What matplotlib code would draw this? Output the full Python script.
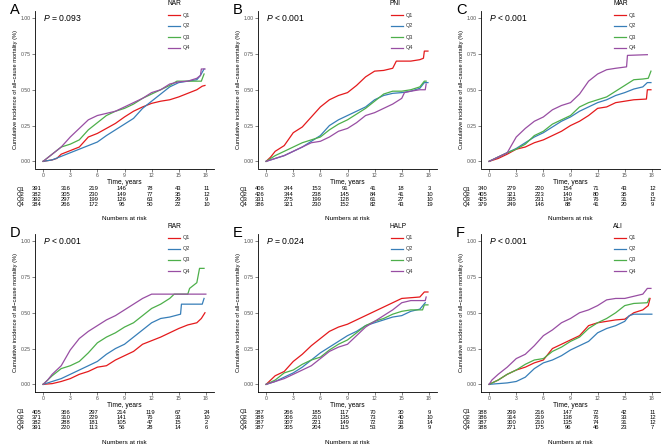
import matplotlib
matplotlib.use("Agg")
import matplotlib.pyplot as plt
from matplotlib.lines import Line2D

plt.rcParams["font.family"] = ["Liberation Sans", "DejaVu Sans"]
plt.rcParams["mathtext.fontset"] = "custom"
plt.rcParams["mathtext.it"] = "Liberation Sans:italic"
plt.rcParams["mathtext.rm"] = "Liberation Sans"

W, H = 669, 446
CELL = 223

# kolory grup (Set1)
colors = ["#E41A1C", "#377EB8", "#4DAF4A", "#984EA3"]
groups = ["Q1", "Q2", "Q3", "Q4"]
risk_times = [0, 3, 6, 9, 12, 15, 18]

# A - NAR
nar_q1 = [(0, 0), (1, 0.01), (1.5, 0.02), (2, 0.05), (3, 0.075), (4, 0.10), (5, 0.17), (6, 0.195), (7, 0.23),
          (8, 0.265), (9, 0.31), (10, 0.35), (11, 0.38), (12, 0.405), (13, 0.42), (14, 0.43), (15, 0.45),
          (16, 0.475), (17, 0.50), (17.6, 0.525), (17.9, 0.53)]
nar_q2 = [(0, 0), (1, 0.01), (2, 0.035), (3, 0.06), (4, 0.085), (5, 0.11), (6, 0.135), (7, 0.18), (8, 0.22),
          (9, 0.26), (10, 0.30), (11, 0.37), (12, 0.42), (13, 0.47), (14, 0.52), (15, 0.55), (16, 0.56),
          (17, 0.57), (17.4, 0.60), (17.8, 0.645)]
nar_q3 = [(0, 0), (1, 0.05), (2, 0.10), (3, 0.12), (4, 0.15), (5, 0.22), (6, 0.27), (7, 0.32), (8, 0.35),
          (9, 0.37), (10, 0.40), (11, 0.44), (12, 0.47), (13, 0.50), (14, 0.53), (14.8, 0.56), (17.5, 0.56),
          (17.8, 0.61)]
nar_q4 = [(0, 0), (1, 0.05), (2, 0.10), (3, 0.17), (4, 0.23), (5, 0.29), (6, 0.32), (7, 0.335), (8, 0.35),
          (9, 0.38), (10, 0.41), (11, 0.44), (12, 0.48), (13, 0.50), (14, 0.54), (15, 0.555), (16, 0.56),
          (17, 0.58), (17.4, 0.60), (17.5, 0.645), (17.9, 0.645)]
nar_risk = [[391, 316, 219, 146, 78, 43, 11], [382, 305, 230, 149, 77, 35, 12],
            [392, 297, 199, 126, 63, 29, 9], [384, 266, 172, 95, 50, 22, 10]]

# B - PNI
pni_q1 = [(0, 0), (0.5, 0.03), (1, 0.07), (2, 0.11), (3, 0.20), (4, 0.24), (5, 0.31), (6, 0.38), (7, 0.43),
          (8, 0.46), (9, 0.48), (10, 0.53), (11, 0.59), (12, 0.63), (13, 0.635), (14, 0.65), (14.4, 0.70),
          (16, 0.70), (17, 0.71), (17.4, 0.72), (17.5, 0.77), (17.9, 0.77)]
pni_q2 = [(0, 0), (1, 0.02), (2, 0.04), (3, 0.07), (4, 0.10), (5, 0.14), (6, 0.18), (7, 0.25), (8, 0.29),
          (9, 0.32), (10, 0.35), (11, 0.38), (12, 0.43), (13, 0.46), (14, 0.475), (15, 0.48), (16, 0.49),
          (17, 0.51), (17.5, 0.55), (17.9, 0.55)]
pni_q3 = [(0, 0), (1, 0.04), (2, 0.07), (3, 0.10), (4, 0.13), (5, 0.15), (6, 0.17), (7, 0.22), (8, 0.26),
          (9, 0.29), (10, 0.33), (11, 0.37), (12, 0.42), (13, 0.47), (14, 0.49), (15, 0.49), (16, 0.50),
          (17, 0.52), (17.5, 0.56), (17.7, 0.56)]
pni_q4 = [(0, 0), (1, 0.02), (2, 0.04), (3, 0.07), (4, 0.10), (5, 0.13), (6, 0.14), (7, 0.17), (8, 0.21),
          (9, 0.23), (10, 0.27), (11, 0.32), (12, 0.34), (13, 0.37), (14, 0.40), (15, 0.44), (15.3, 0.48),
          (16, 0.49), (17, 0.50), (17.6, 0.50), (17.7, 0.54)]
pni_risk = [[406, 244, 153, 91, 41, 18, 3], [426, 344, 238, 145, 84, 41, 10],
            [331, 275, 199, 128, 61, 27, 10], [386, 321, 230, 152, 82, 43, 19]]

# C - MAR
mar_q1 = [(0, 0), (1, 0.02), (2, 0.05), (3, 0.085), (4, 0.10), (5, 0.13), (6, 0.15), (7, 0.18), (8, 0.21),
          (9, 0.25), (10, 0.28), (11, 0.32), (12, 0.37), (13, 0.38), (14, 0.41), (15, 0.42), (16, 0.43),
          (17.4, 0.435), (17.5, 0.50), (17.9, 0.50)]
mar_q2 = [(0, 0), (1, 0.03), (2, 0.06), (3, 0.09), (4, 0.13), (5, 0.17), (6, 0.20), (7, 0.24), (8, 0.28),
          (9, 0.31), (10, 0.35), (11, 0.38), (12, 0.41), (13, 0.43), (14, 0.46), (15, 0.48), (16, 0.505),
          (17, 0.52), (17.5, 0.55), (17.9, 0.55)]
mar_q3 = [(0, 0), (1, 0.03), (2, 0.06), (3, 0.085), (4, 0.12), (5, 0.18), (6, 0.21), (7, 0.26), (8, 0.29),
          (9, 0.32), (10, 0.38), (11, 0.41), (12, 0.43), (13, 0.45), (14, 0.49), (15, 0.53), (16, 0.57),
          (17, 0.575), (17.6, 0.58), (17.9, 0.63)]
mar_q4 = [(0, 0), (1, 0.03), (2, 0.06), (3, 0.17), (4, 0.23), (5, 0.28), (6, 0.31), (7, 0.36), (8, 0.39),
          (9, 0.41), (10, 0.47), (11, 0.56), (12, 0.61), (13, 0.64), (14, 0.65), (15.2, 0.66), (15.3, 0.74),
          (17.5, 0.745)]
mar_risk = [[340, 279, 220, 154, 71, 43, 12], [405, 321, 223, 140, 80, 35, 8],
            [425, 335, 231, 134, 76, 31, 12], [379, 249, 146, 88, 41, 20, 9]]

# D - RAR
rar_q1 = [(0, 0), (1, 0.005), (2, 0.02), (3, 0.04), (4, 0.07), (5, 0.09), (6, 0.12), (7, 0.13), (8, 0.17),
          (9, 0.20), (10, 0.23), (11, 0.28), (12, 0.305), (13, 0.33), (14, 0.36), (15, 0.39), (16, 0.415),
          (17, 0.43), (17.5, 0.46), (17.9, 0.50)]
rar_q2 = [(0, 0), (1, 0.02), (2, 0.04), (3, 0.07), (4, 0.10), (5, 0.13), (6, 0.16), (7, 0.21), (8, 0.25),
          (9, 0.28), (10, 0.33), (11, 0.38), (12, 0.43), (13, 0.46), (14, 0.47), (15.2, 0.49), (15.3, 0.56),
          (17.6, 0.56), (17.8, 0.60)]
rar_q3 = [(0, 0), (0.5, 0.03), (1, 0.06), (2, 0.11), (3, 0.13), (4, 0.16), (5, 0.22), (6, 0.29), (7, 0.33),
          (8, 0.36), (9, 0.40), (10, 0.43), (11, 0.48), (12, 0.53), (13, 0.56), (14, 0.60), (14.5, 0.63),
          (16, 0.63), (16.2, 0.67), (17, 0.71), (17.3, 0.81), (17.8, 0.81)]
rar_q4 = [(0, 0), (0.5, 0.03), (1, 0.07), (2, 0.13), (3, 0.24), (4, 0.32), (5, 0.37), (6, 0.41), (7, 0.45),
          (8, 0.48), (9, 0.52), (10, 0.56), (11, 0.60), (12, 0.63), (18, 0.63)]
rar_risk = [[405, 366, 297, 214, 119, 67, 24], [371, 310, 229, 141, 76, 33, 10],
            [382, 288, 181, 105, 47, 15, 2], [391, 220, 113, 56, 28, 14, 6]]

# E - HALP
halp_q1 = [(0, 0), (0.5, 0.03), (1, 0.06), (2, 0.09), (3, 0.16), (4, 0.21), (5, 0.27), (6, 0.32), (7, 0.37),
           (8, 0.40), (9, 0.42), (10, 0.45), (11, 0.48), (12, 0.51), (13, 0.54), (14, 0.57), (15, 0.60),
           (16, 0.605), (17, 0.61), (17.5, 0.645), (17.9, 0.645)]
halp_q2 = [(0, 0), (1, 0.02), (2, 0.05), (3, 0.08), (4, 0.12), (5, 0.17), (6, 0.22), (7, 0.26), (8, 0.30),
           (9, 0.34), (10, 0.37), (11, 0.41), (12, 0.43), (13, 0.45), (14, 0.47), (15, 0.48), (16, 0.51),
           (17, 0.525), (17.6, 0.57)]
halp_q3 = [(0, 0), (1, 0.03), (2, 0.08), (3, 0.10), (4, 0.14), (5, 0.17), (6, 0.19), (7, 0.24), (8, 0.28),
           (9, 0.31), (10, 0.36), (11, 0.41), (12, 0.44), (13, 0.46), (14, 0.49), (15, 0.51), (16, 0.52),
           (17.3, 0.52), (17.5, 0.555), (17.9, 0.555)]
halp_q4 = [(0, 0), (1, 0.02), (2, 0.04), (3, 0.07), (4, 0.10), (5, 0.13), (6, 0.18), (7, 0.23), (8, 0.26),
           (9, 0.28), (10, 0.34), (11, 0.40), (12, 0.44), (13, 0.48), (14, 0.52), (15, 0.57), (16, 0.585),
           (17.6, 0.585), (17.7, 0.61)]
halp_risk = [[387, 266, 185, 117, 70, 30, 9], [388, 306, 210, 135, 73, 40, 10],
             [387, 307, 221, 149, 72, 33, 14], [387, 305, 204, 115, 53, 26, 9]]

# F - ALI
ali_q1 = [(0, 0), (1, 0.03), (2, 0.07), (3, 0.10), (4, 0.12), (5, 0.15), (6, 0.17), (7, 0.25), (8, 0.28),
          (9, 0.31), (10, 0.34), (11, 0.41), (12, 0.43), (13, 0.44), (14, 0.45), (15, 0.455), (16, 0.50),
          (17, 0.52), (17.6, 0.55), (17.8, 0.60)]
ali_q2 = [(0, 0), (1, 0.005), (2, 0.01), (3, 0.02), (4, 0.05), (5, 0.11), (6, 0.15), (7, 0.17), (8, 0.20),
          (9, 0.24), (10, 0.27), (11, 0.30), (12, 0.36), (13, 0.39), (14, 0.41), (15, 0.44), (15.5, 0.48),
          (16, 0.49), (18, 0.49)]
ali_q3 = [(0, 0), (1, 0.03), (2, 0.07), (3, 0.10), (4, 0.14), (5, 0.17), (6, 0.18), (7, 0.23), (8, 0.26),
          (9, 0.30), (10, 0.33), (11, 0.39), (12, 0.43), (13, 0.46), (14, 0.50), (15, 0.55), (16, 0.565),
          (17.5, 0.57), (17.7, 0.60)]
ali_q4 = [(0, 0), (0.3, 0.03), (1, 0.07), (2, 0.12), (3, 0.18), (4, 0.21), (5, 0.27), (6, 0.34), (7, 0.38),
          (8, 0.43), (9, 0.46), (10, 0.50), (11, 0.52), (12, 0.55), (13, 0.59), (14, 0.60), (15, 0.60),
          (16, 0.615), (17, 0.63), (17.5, 0.67), (17.9, 0.67)]
ali_risk = [[388, 299, 216, 147, 72, 42, 11], [386, 314, 219, 138, 76, 33, 12],
            [387, 300, 210, 135, 74, 31, 12], [388, 271, 175, 96, 46, 23, 7]]

panel_letters = ["A", "B", "C", "D", "E", "F"]
panel_names = ["NAR", "PNI", "MAR", "RAR", "HALP", "ALI"]
p_labels = ["= 0.093", "< 0.001", "< 0.001", "< 0.001", "= 0.024", "< 0.001"]
curves = [
    [nar_q1, nar_q2, nar_q3, nar_q4],
    [pni_q1, pni_q2, pni_q3, pni_q4],
    [mar_q1, mar_q2, mar_q3, mar_q4],
    [rar_q1, rar_q2, rar_q3, rar_q4],
    [halp_q1, halp_q2, halp_q3, halp_q4],
    [ali_q1, ali_q2, ali_q3, ali_q4],
]
risks = [nar_risk, pni_risk, mar_risk, rar_risk, halp_risk, ali_risk]

fig = plt.figure(figsize=(W / 100, H / 100), dpi=100)


def fx(x):
    return x / W


def fy(y):
    return 1 - y / H


for k in range(6):
    cx = CELL * (k % 3)
    cy = CELL * (k // 3)

    ax = fig.add_axes([fx(cx + 35), fy(cy + 168.5), 179 / W, 157.5 / H])
    for pts, col in zip(curves[k], colors):
        ax.plot([p[0] for p in pts], [p[1] for p in pts], color=col, lw=0.9)

    ax.set_xlim(-0.9, 18.9)
    ax.set_ylim(-0.05, 1.05)
    ax.set_xticks(risk_times)
    ax.set_yticks([0, 0.25, 0.5, 0.75, 1.0])
    ax.set_yticklabels(["0.00", "0.25", "0.50", "0.75", "1.00"])
    for s in ["top", "right"]:
        ax.spines[s].set_visible(False)
    for s in ["left", "bottom"]:
        ax.spines[s].set_linewidth(0.6)
    ax.tick_params(labelsize=3.7, colors="#4D4D4D", length=2, width=0.5, pad=1)
    ax.set_xlabel("Time, years", fontsize=4.8, labelpad=1.2)
    ax.set_ylabel("Cumulative incidence of all\u2212cause mortality (%)", fontsize=4.1, labelpad=2)

    ax.text(0, 1.0, "$\\it{P}$ " + p_labels[k], fontsize=6.2, va="center", ha="left")

    # litera panelu
    fig.text(fx(cx + 10), fy(cy + 10), panel_letters[k], fontsize=10.5, va="center", ha="left")

    # legenda
    fig.text(fx(cx + 167), fy(cy + 3.5), panel_names[k], fontsize=4.8, va="center", ha="left")
    for i, g in enumerate(groups):
        yy = cy + 15 + i * 11
        fig.add_artist(Line2D([fx(cx + 168), fx(cx + 180)], [fy(yy), fy(yy)], color=colors[i], lw=0.9))
        fig.text(fx(cx + 183), fy(yy), g, fontsize=4.0, va="center", ha="left", color="#333333")

    # tabela liczby narażonych (własna skala x, jak w survminer)
    for i, g in enumerate(groups):
        yy = cy + 189 + i * 5.2
        fig.text(fx(cx + 17), fy(yy), g, fontsize=4.2, va="center", ha="left")
        for t, n in zip(risk_times, risks[k][i]):
            xx = cx + 37 + t * (169.5 / 18)
            fig.text(fx(xx), fy(yy), str(n), fontsize=4.2, va="center", ha="center")
    fig.text(fx(cx + 124.5), fy(cy + 219), "Numbers at risk", fontsize=4.6, va="center", ha="center")

fig.savefig("out.png", dpi=100)
